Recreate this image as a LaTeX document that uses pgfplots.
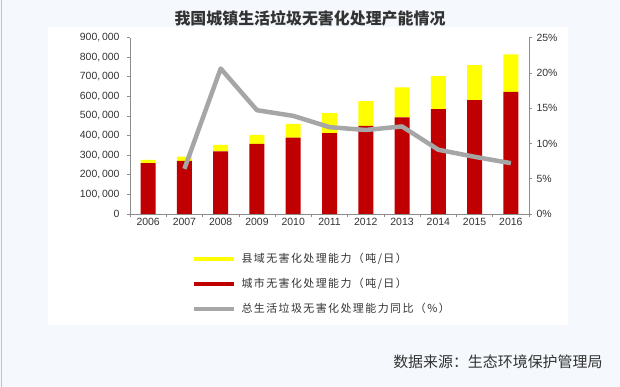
\documentclass[border=0pt]{standalone}
\usepackage{pgfplots}
\pgfplotsset{compat=1.18}
\usepackage{fontspec}
\setmainfont{Liberation Sans}
\newfontfamily\cjk{Noto Sans CJK SC}
\newfontfamily\cjkwide[LetterSpace=13]{Noto Sans CJK SC}
\definecolor{bg}{HTML}{F5F9FD}
\definecolor{border}{HTML}{A9CBDD}
\definecolor{barred}{HTML}{C00000}
\definecolor{baryellow}{HTML}{FFFF00}
\definecolor{linegray}{HTML}{A6A6A6}
\definecolor{axisgray}{HTML}{8C8C8C}
\definecolor{txt}{HTML}{333333}
\begin{document}
\begin{tikzpicture}
\useasboundingbox (0bp,0bp) rectangle (620bp,387bp);
\fill[bg] (0bp,0bp) rectangle (620bp,387bp);
\fill[white] (48bp,62bp) rectangle (568bp,360bp);
\draw[border, line width=1.2bp] (1.5bp,0bp) -- (1.5bp,387bp);
\node[font=\cjk\bfseries\fontsize{16}{18}\selectfont, text=txt] at (310bp,369bp) {我国城镇生活垃圾无害化处理产能情况};
\node[font=\cjk\fontsize{15}{17}\selectfont, text=txt, anchor=east] at (606bp,25bp) {数据来源：生态环境保护管理局};
\begin{axis}[
  at={(130bp,173bp)}, anchor=south west,
  scale only axis, width=399bp, height=176.5bp,
  xmin=-0.5, xmax=10.5, ymin=0, ymax=900000,
  ybar stacked, bar width=15bp,
  axis y line*=left, axis x line*=bottom,
  axis line style={axisgray, line width=0.8bp},
  xtick={0,...,10},
  xticklabels={2006,2007,2008,2009,2010,2011,2012,2013,2014,2015,2016},
  minor xtick={-0.5,0.5,...,10.5},
  major tick length=0pt,
  minor tick length=3bp,
  tick align=outside,
  tick style={axisgray, line width=0.6bp},
  scaled y ticks=false,
  ytick={0,100000,...,900000},
  yticklabels={0,{100,\,000},{200,\,000},{300,\,000},{400,\,000},{500,\,000},{600,\,000},{700,\,000},{800,\,000},{900,\,000}},
  minor ytick={0,100000,...,900000},
  ticklabel style={font=\fontsize{10.5}{12}\selectfont, text=txt},
  yticklabel style={xshift=-7bp},
  xticklabel style={yshift=-1bp},
]
\addplot[fill=barred, draw=none] coordinates {(0,259000)(1,271000)(2,319000)(3,358000)(4,390000)(5,413000)(6,449000)(7,493000)(8,535000)(9,581000)(10,623000)};
\addplot[fill=baryellow, draw=none] coordinates {(0,17000)(1,22000)(2,34000)(3,46000)(4,70000)(5,102000)(6,127000)(7,153000)(8,168000)(9,178000)(10,191000)};
\end{axis}
\begin{axis}[
  at={(130bp,173bp)}, anchor=south west,
  scale only axis, width=399bp, height=176.5bp,
  xmin=-0.5, xmax=10.5, ymin=0, ymax=25,
  axis y line*=right, axis x line=none,
  axis line style={axisgray, line width=0.8bp},
  ytick={0,5,...,25},
  yticklabels={0\%,5\%,10\%,15\%,20\%,25\%},
  minor ytick={0,5,...,25},
  major tick length=0pt, minor tick length=3bp,
  tick align=outside,
  tick style={axisgray, line width=0.6bp},
  ticklabel style={font=\fontsize{10.5}{12}\selectfont, text=txt},
  yticklabel style={xshift=4bp},
  legend image code/.code={\draw[#1] (0bp,0bp) -- (40bp,0bp);},
  legend cell align=left,
  legend style={at={(0.155,-0.22)}, anchor=north west, draw=none, fill=none,
    inner sep=0pt, row sep=13bp, column sep=5bp,
    nodes={inner sep=0pt, text height=9bp, text depth=3bp, font=\cjkwide\fontsize{11}{13}\selectfont, text=txt}},
]
\addlegendimage{color=baryellow, line width=4.5bp}
\addlegendentry{县域无害化处理能力（吨/日）}
\addlegendimage{color=barred, line width=4.5bp}
\addlegendentry{城市无害化处理能力（吨/日）}
\addplot[color=linegray, line width=4.5bp, line join=round, mark=none] coordinates {(1,6.4)(2,20.6)(3,14.7)(4,13.9)(5,12.3)(6,11.9)(7,12.4)(8,9.1)(9,8.1)(10,7.2)};
\addlegendentry{总生活垃圾无害化处理能力同比（\%）}
\end{axis}
\end{tikzpicture}
\end{document}
